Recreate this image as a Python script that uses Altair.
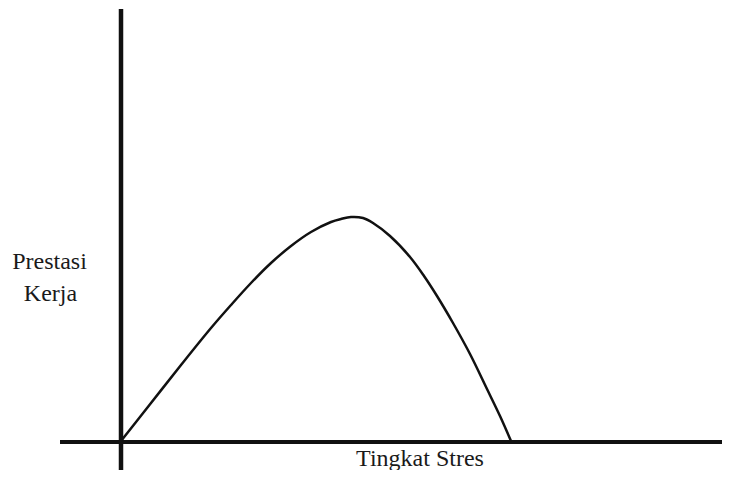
import altair as alt
import pandas as pd

# Curve: stress level vs work performance
stres = [0, 30, 60, 90, 110, 130, 150, 170, 190, 210, 220, 230, 242,
         252, 269, 289, 303, 316, 332, 349, 366, 379, 390]
prestasi = [0, 38, 76, 113, 136, 158, 178, 195, 209, 219, 222, 224, 223,
            218, 205, 184, 165, 145, 118, 87, 52, 25, 0]

y_label_lines = ["Prestasi", "Kerja"]
x_label = "Tingkat Stres"

df = pd.DataFrame({"stres": stres, "prestasi": prestasi})

W, H = 714, 462
xs = alt.Scale(domain=[-113, W - 113], nice=False, zero=False)
ys = alt.Scale(domain=[433 - H, 433], nice=False, zero=False)

FONT = "'Liberation Serif', 'Times New Roman', Times, serif"
INK = "#111111"

curve = alt.Chart(df).mark_line(
    color=INK, strokeWidth=2.5, interpolate="catmull-rom"
).encode(
    x=alt.X("stres:Q", scale=xs, axis=None),
    y=alt.Y("prestasi:Q", scale=ys, axis=None),
)

vdf = pd.DataFrame({"x": [0], "y1": [433 - H], "y2": [432]})
vline = alt.Chart(vdf).mark_rule(color=INK, strokeWidth=4.5).encode(
    x=alt.X("x:Q", scale=xs, axis=None),
    y=alt.Y("y1:Q", scale=ys, axis=None),
    y2="y2:Q",
)

hdf = pd.DataFrame({"y": [-1], "x1": [-61], "x2": [W - 113]})
hline = alt.Chart(hdf).mark_rule(color=INK, strokeWidth=4).encode(
    y=alt.Y("y:Q", scale=ys, axis=None),
    x=alt.X("x1:Q", scale=xs, axis=None),
    x2="x2:Q",
)

tdf = pd.DataFrame({
    "t": [y_label_lines[0], y_label_lines[1], x_label],
    "px": [41.5, 42.5, 412],
    "py": [261, 293, 458],
})
labels = alt.Chart(tdf).mark_text(
    font=FONT, fontSize=24, color="#1a1a1a",
    align="center", baseline="alphabetic"
).encode(
    text="t:N",
    x=alt.X("px:Q", scale=alt.Scale(domain=[0, W], nice=False, zero=False), axis=None),
    y=alt.Y("py:Q", scale=alt.Scale(domain=[0, H], range=[0, H], nice=False, zero=False), axis=None),
)

chart = alt.layer(vline, hline, curve, labels).resolve_scale(
    x="independent", y="independent"
).properties(
    width=W, height=H, padding=0, autosize=alt.AutoSizeParams(type="none")
).configure(background="white").configure_view(stroke=None)

chart.save("out.html", embed_options={"renderer": "svg", "actions": False})
